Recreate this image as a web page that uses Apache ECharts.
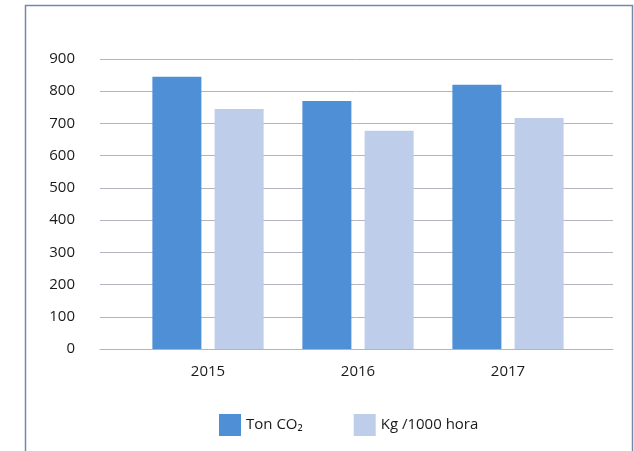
<!DOCTYPE html>
<html>
<head>
<meta charset="utf-8">
<script src="https://cdn.jsdelivr.net/npm/echarts@6/dist/echarts.min.js"></script>
<style>
  html, body { margin: 0; padding: 0; background: #fff; }
  #chart { width: 634px; height: 451px; }
</style>
</head>
<body>
<div id="chart"></div>
<script>
const years = ['2015', '2016', '2017']
const tonCO2 = [845, 770, 820]
const kgPerHour = [745, 677, 717]
const yTicks = [0, 100, 200, 300, 400, 500, 600, 700, 800, 900]

const font = '"Open Sans", "Noto Sans", sans-serif'
const chart = echarts.init(document.getElementById('chart'))

const option = {
    animation: false,
    color: ['#4f8fd6', '#becde9'],
    graphic: [
        {
            // outer frame of the chart area
            type: 'rect',
            shape: { x: 25.5, y: 5.5, width: 607, height: 470 },
            style: { fill: 'none', stroke: '#7787a8', lineWidth: 1.5 }
        }
    ],
    legend: {
        left: 219,
        top: 414,
        padding: 0,
        itemWidth: 22,
        itemHeight: 22,
        itemGap: 51,
        icon: 'rect',
        textStyle: { fontFamily: font, fontSize: 15, color: '#1a1a1a' },
        data: ['Ton CO₂', 'Kg /1000 hora']
    },
    grid: [
        // wide grid: gridlines and y labels
        { left: 100, right: 21, top: 59, bottom: 102 },
        // narrower grid: the bars and year labels
        { left: 133, right: 51, top: 59, bottom: 102 }
    ],
    xAxis: [
        {
            gridIndex: 0,
            type: 'value',
            min: 0,
            max: 1,
            axisLine: { show: true, lineStyle: { color: '#b4b4be', width: 1 } },
            axisTick: { show: false },
            axisLabel: { show: false },
            splitLine: { show: false }
        },
        {
            gridIndex: 1,
            type: 'category',
            data: years,
            axisLine: { show: false },
            axisTick: { show: false },
            axisLabel: {
                margin: 15,
                fontFamily: font,
                fontSize: 15,
                color: '#1a1a1a'
            }
        }
    ],
    yAxis: [
        {
            gridIndex: 0,
            type: 'value',
            min: yTicks[0],
            max: yTicks[yTicks.length - 1],
            interval: 100,
            axisLine: { show: false },
            axisTick: { show: false },
            axisLabel: {
                margin: 25,
                fontFamily: font,
                fontSize: 15,
                color: '#1a1a1a'
            },
            splitLine: { show: true, lineStyle: { color: '#b4b4be', width: 1 } }
        },
        {
            gridIndex: 1,
            type: 'value',
            min: yTicks[0],
            max: yTicks[yTicks.length - 1],
            interval: 100,
            show: false,
            splitLine: { show: false }
        }
    ],
    series: [
        {
            name: 'Ton CO₂',
            type: 'bar',
            xAxisIndex: 1,
            yAxisIndex: 1,
            barWidth: 49,
            barGap: '27%',
            data: tonCO2
        },
        {
            name: 'Kg /1000 hora',
            type: 'bar',
            xAxisIndex: 1,
            yAxisIndex: 1,
            barWidth: 49,
            barGap: '27%',
            data: kgPerHour
        }
    ]
}

chart.setOption(option)
</script>
</body>
</html>
